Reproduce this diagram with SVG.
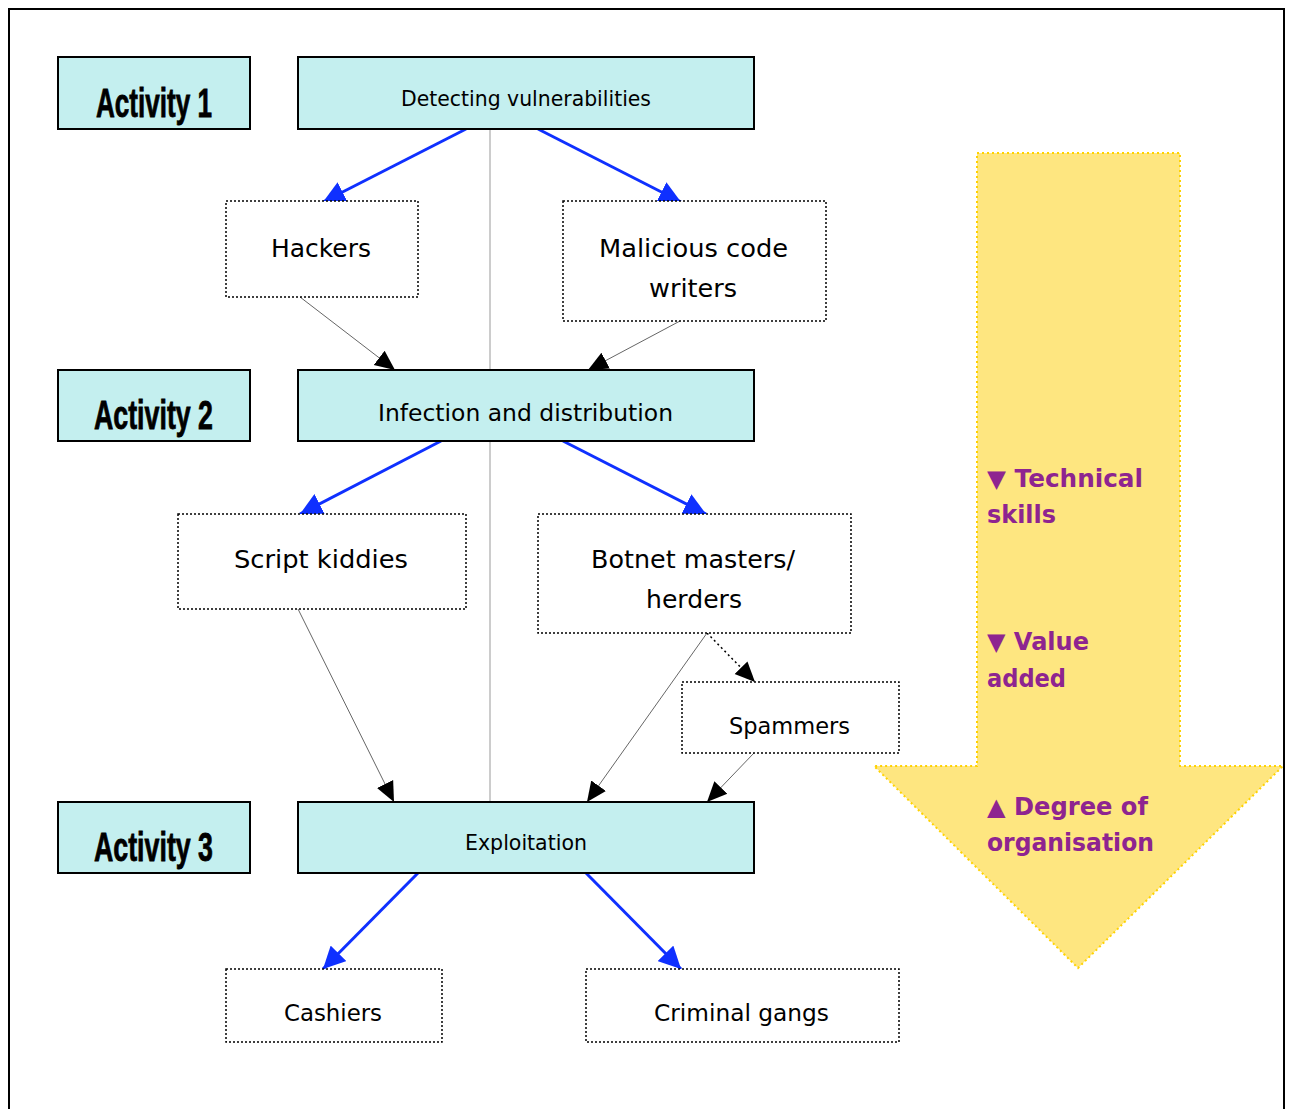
<svg xmlns="http://www.w3.org/2000/svg" width="1290" height="1109" viewBox="0 0 1290 1109">
<defs>
<style>
.act{fill:#C4EFEF;stroke:#000;stroke-width:2}
.role{fill:#fff;stroke:#000;stroke-width:1.5;stroke-dasharray:2 2}
.actt{font-family:"Liberation Sans",Arial,sans-serif;font-weight:bold;font-size:40px;fill:#000;stroke:#000;stroke-width:0.8}
.lbl{font-family:"DejaVu Sans","Liberation Sans",sans-serif;fill:#000;text-anchor:start}
.pur{font-family:"DejaVu Sans","Liberation Sans",sans-serif;font-weight:bold;font-size:24px;fill:#8E2490}
.blue{stroke:#0F30FF;stroke-width:3;fill:none}
.thin{stroke:#666;stroke-width:1;fill:none}
.dot{stroke:#000;stroke-width:1.5;stroke-dasharray:2 3;fill:none}
.vline{stroke:#999;stroke-width:1;fill:none}
</style>
<marker id="ab" markerUnits="userSpaceOnUse" markerWidth="22" markerHeight="22" viewBox="0 0 22 22" refX="22" refY="11" orient="auto"><path d="M0,0 L22,11 L0,22 z" fill="#0F30FF"/></marker>
<marker id="ak" markerUnits="userSpaceOnUse" markerWidth="20" markerHeight="20" viewBox="0 0 20 20" refX="20" refY="10" orient="auto"><path d="M0,1 L20,10 L0,19 z" fill="#000"/></marker>
</defs>
<rect x="0" y="0" width="1290" height="1109" fill="#fff"/>
<rect x="9" y="9" width="1275" height="1120" fill="none" stroke="#000" stroke-width="2"/>

<g id="scale-arrow">
<polygon points="977,153 1180,153 1180,766 1283,766 1078,968 874,766 977,766" fill="#FEE680" stroke="#FFD200" stroke-width="2" stroke-dasharray="2 3"/>
<text class="pur" x="987" y="487" textLength="156" lengthAdjust="spacingAndGlyphs">▼ Technical</text>
<text class="pur" x="987" y="523" textLength="69" lengthAdjust="spacingAndGlyphs">skills</text>
<text class="pur" x="987" y="650" textLength="102" lengthAdjust="spacingAndGlyphs">▼ Value</text>
<text class="pur" x="987" y="687" textLength="79" lengthAdjust="spacingAndGlyphs">added</text>
<text class="pur" x="987" y="815" textLength="161" lengthAdjust="spacingAndGlyphs">▲ Degree of</text>
<text class="pur" x="987" y="851" textLength="167" lengthAdjust="spacingAndGlyphs">organisation</text>
</g>

<g id="connectors">
<path class="vline" d="M490,129 V370 M490,441 V802"/>
<line class="blue" x1="466" y1="129" x2="323" y2="202" marker-end="url(#ab)"/>
<line class="blue" x1="538" y1="129" x2="681" y2="202" marker-end="url(#ab)"/>
<line class="thin" x1="300" y1="297" x2="395" y2="370" marker-end="url(#ak)"/>
<line class="thin" x1="680" y1="321" x2="588" y2="370" marker-end="url(#ak)"/>
<line class="blue" x1="441" y1="441" x2="300" y2="514" marker-end="url(#ab)"/>
<line class="blue" x1="563" y1="441" x2="706" y2="514" marker-end="url(#ab)"/>
<line class="thin" x1="298" y1="609" x2="394" y2="802" marker-end="url(#ak)"/>
<line class="thin" x1="707" y1="633" x2="587" y2="802" marker-end="url(#ak)"/>
<line class="dot" x1="707" y1="633" x2="755" y2="682" marker-end="url(#ak)"/>
<line class="thin" x1="754" y1="753" x2="707" y2="802" marker-end="url(#ak)"/>
<line class="blue" x1="418" y1="873" x2="323" y2="969" marker-end="url(#ab)"/>
<line class="blue" x1="586" y1="873" x2="681" y2="969" marker-end="url(#ab)"/>
</g>

<g id="activity1"><rect class="act" x="58" y="57" width="192" height="72"/><text class="actt" x="96" y="117" textLength="116" lengthAdjust="spacingAndGlyphs">Activity 1</text></g>
<g id="activity2"><rect class="act" x="58" y="370" width="192" height="71"/><text class="actt" x="94" y="429" textLength="119" lengthAdjust="spacingAndGlyphs">Activity 2</text></g>
<g id="activity3"><rect class="act" x="58" y="802" width="192" height="71"/><text class="actt" x="94" y="861" textLength="119" lengthAdjust="spacingAndGlyphs">Activity 3</text></g>

<g id="detecting"><rect class="act" x="298" y="57" width="456" height="72"/><text class="lbl" x="401" y="106" font-size="20.5" textLength="250" lengthAdjust="spacingAndGlyphs">Detecting vulnerabilities</text></g>
<g id="infection"><rect class="act" x="298" y="370" width="456" height="71"/><text class="lbl" x="378" y="421" font-size="23" textLength="295" lengthAdjust="spacingAndGlyphs">Infection and distribution</text></g>
<g id="exploitation"><rect class="act" x="298" y="802" width="456" height="71"/><text class="lbl" x="465" y="850" font-size="20.5" textLength="122" lengthAdjust="spacingAndGlyphs">Exploitation</text></g>

<g id="hackers"><rect class="role" x="226" y="201" width="192" height="96"/><text class="lbl" x="271" y="257" font-size="25" textLength="100" lengthAdjust="spacingAndGlyphs">Hackers</text></g>
<g id="malicious"><rect class="role" x="563" y="201" width="263" height="120"/><text class="lbl" x="599" y="257" font-size="25" textLength="189" lengthAdjust="spacingAndGlyphs">Malicious code</text><text class="lbl" x="649" y="297" font-size="25" textLength="88" lengthAdjust="spacingAndGlyphs">writers</text></g>
<g id="script-kiddies"><rect class="role" x="178" y="514" width="288" height="95"/><text class="lbl" x="234" y="568" font-size="25" textLength="174" lengthAdjust="spacingAndGlyphs">Script kiddies</text></g>
<g id="botnet"><rect class="role" x="538" y="514" width="313" height="119"/><text class="lbl" x="591" y="568" font-size="25" textLength="204" lengthAdjust="spacingAndGlyphs">Botnet masters/</text><text class="lbl" x="646" y="608" font-size="25" textLength="96" lengthAdjust="spacingAndGlyphs">herders</text></g>
<g id="spammers"><rect class="role" x="682" y="682" width="217" height="71"/><text class="lbl" x="729" y="734" font-size="23" textLength="121" lengthAdjust="spacingAndGlyphs">Spammers</text></g>
<g id="cashiers"><rect class="role" x="226" y="969" width="216" height="73"/><text class="lbl" x="284" y="1021" font-size="23" textLength="98" lengthAdjust="spacingAndGlyphs">Cashiers</text></g>
<g id="criminal-gangs"><rect class="role" x="586" y="969" width="313" height="73"/><text class="lbl" x="654" y="1021" font-size="23" textLength="175" lengthAdjust="spacingAndGlyphs">Criminal gangs</text></g>
</svg>
